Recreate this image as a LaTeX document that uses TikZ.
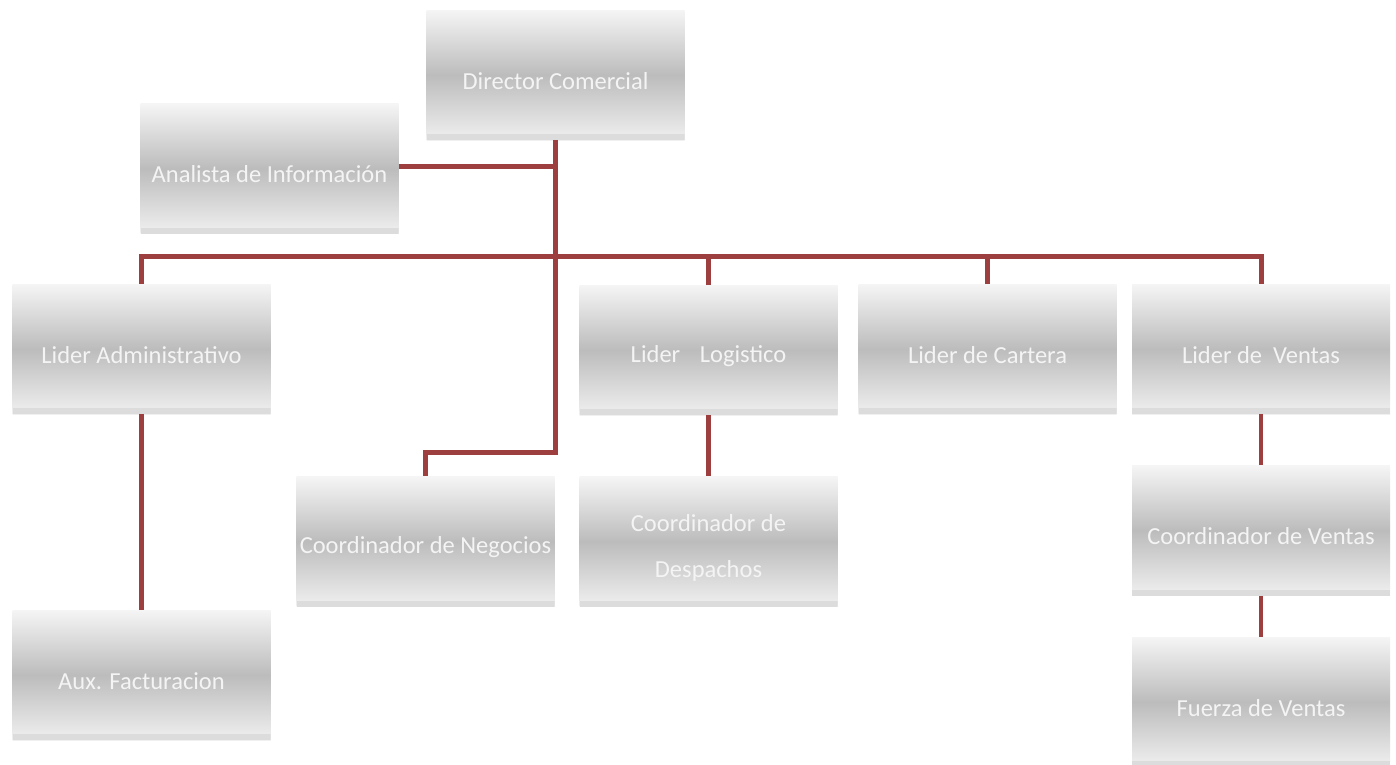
\documentclass[tikz,border=0pt]{standalone}
\usepackage{fontspec}
\newfontfamily\boxfont{Carlito}
\definecolor{linkred}{HTML}{9E3F3F}
\definecolor{boxtop}{HTML}{F5F5F5}
\definecolor{boxmid}{HTML}{BCBCBC}
\definecolor{boxbot}{HTML}{F0F0F0}
\definecolor{boxband}{HTML}{DCDCDC}
\definecolor{boxtext}{HTML}{F4F4F4}
\tikzset{
  orgbox/.style={rectangle, inner sep=0pt, minimum width=258pt, minimum height=130pt,
    top color=boxtop, bottom color=boxbot, middle color=boxmid,
    path picture={\fill[boxband] (path picture bounding box.south west) rectangle ([yshift=6pt]path picture bounding box.south east);}},
  boxlabel/.style={font=\boxfont\fontsize{24.5}{46}\selectfont, text=boxtext, align=center, inner sep=0pt, yshift=-6pt},
  lbl/.style={label={[boxlabel]center:#1}},
  link/.style={draw=linkred, line width=5pt, line join=miter},
  thinlink/.style={draw=linkred, line width=3.5pt}
}
\begin{document}
\begin{tikzpicture}[x=1pt,y=-1pt]
\useasboundingbox (0,0) rectangle (1396,764);
\node[orgbox, lbl={Director Comercial}] (dir)  at (555.5,75) {};
\node[orgbox, lbl={Analista de Información}] (ana)  at (269.5,168.5) {};
\node[orgbox, lbl={Lider Administrativo}] (ladm) at (141.5,349) {};
\node[orgbox, lbl={Lider\hspace{0.8em}Logistico}] (llog) at (708.5,350) {};
\node[orgbox, lbl={Lider de Cartera}] (lcar) at (987.5,349) {};
\node[orgbox, lbl={Lider de\hspace{0.45em}Ventas}] (lven) at (1261,349) {};
\node[orgbox, lbl={Coordinador de Negocios}] (cneg) at (425.5,541.5) {};
\node[orgbox, lbl={Coordinador de\\Despachos}] (cdes) at (708.5,541.5) {};
\node[orgbox, lbl={Coordinador de Ventas}] (cven) at (1261,530.5) {};
\node[orgbox, lbl={Aux. Facturacion}] (aux)  at (141.5,675) {};
\node[orgbox, lbl={Fuerza de Ventas}] (fue)  at (1261,702) {};
\coordinate (bus) at (555.5,256);
\coordinate (neg) at (555.5,452);
\draw[link] (dir.south) -- (neg) -| (cneg.north);
\draw[link] (ana.east |- 0,166) -- (dir.south |- 0,166);
\draw[link] (ladm.north) |- (bus) -| (lven.north);
\draw[link] (llog.north) -- (llog.north |- bus);
\draw[link] (lcar.north) -- (lcar.north |- bus);
\draw[link] (ladm.south) -- (aux.north);
\draw[link] (llog.south) -- (cdes.north);
\draw[thinlink] (lven.south) -- (cven.north);
\draw[thinlink] (cven.south) -- (fue.north);
\end{tikzpicture}
\end{document}
